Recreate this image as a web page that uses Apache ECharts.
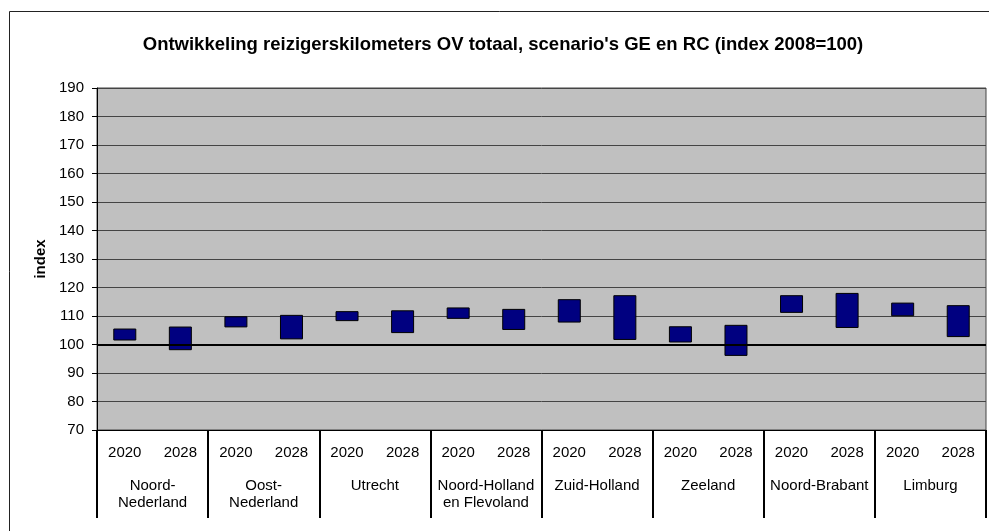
<!DOCTYPE html>
<html>
<head>
<meta charset="utf-8">
<script src="https://cdn.jsdelivr.net/npm/echarts@6/dist/echarts.min.js"></script>
<style>
  html, body { margin: 0; padding: 0; background: #fff; }
  #main { width: 989px; height: 531px; }
</style>
</head>
<body>
<div id="main"></div>
<script>
// regio's (onderste as) en jaren (bovenste rij labels)
var regions = ['Noord-\nNederland', 'Oost-\nNederland', 'Utrecht', 'Noord-Holland\nen Flevoland',
               'Zuid-Holland', 'Zeeland', 'Noord-Brabant', 'Limburg'];
var yearLabels = ['2020', '2028', '2020', '2028', '2020', '2028', '2020', '2028',
                  '2020', '2028', '2020', '2028', '2020', '2028', '2020', '2028'];

// onder- en bovenkant van de bandbreedte (index 2008=100)
var lowValues  = [101.4, 98.0, 106.0, 101.8, 108.2, 104.0, 109.0, 105.1,
                  107.7, 101.6, 100.7, 96.0, 111.1, 105.8, 109.9, 102.6];
var highValues = [105.6, 106.3, 109.9, 110.4, 111.7, 112.0, 113.0, 112.5,
                  115.9, 117.3, 106.4, 106.9, 117.3, 118.1, 114.7, 113.8];

var yTicks = { min: 70, max: 190, interval: 10 };
var baseLine = 100;

var font = "'Liberation Sans', Arial, sans-serif";

// hoogte van de zichtbare balk = boven - onder
var rangeValues = highValues.map(function (v, i) {
    return +(v - lowValues[i]).toFixed(2);
});

var myChart = echarts.init(document.getElementById('main'));

var option = {
    backgroundColor: '#fff',
    animation: false,
    title: {
        text: "Ontwikkeling reizigerskilometers OV totaal, scenario's GE en RC (index 2008=100)",
        left: 498,
        textAlign: 'center',
        top: 30,
        textStyle: { fontFamily: font, fontSize: 18.5, fontWeight: 'bold', color: '#000' }
    },
    graphic: [{
        type: 'rect',
        shape: { x: 9.5, y: 11.5, width: 1000, height: 600 },
        style: { fill: 'none', stroke: '#222', lineWidth: 1 },
        silent: true
    }],
    grid: {
        left: 97, right: 3, top: 88, bottom: 101,
        show: true,
        backgroundColor: '#c0c0c0',
        borderColor: '#444',
        borderWidth: 1
    },
    xAxis: [{
        type: 'category',
        data: yearLabels,
        axisLine: { lineStyle: { color: '#000', width: 1 } },
        axisTick: { show: false },
        axisLabel: { fontFamily: font, fontSize: 15, color: '#000', margin: 15, interval: 0 }
    }, {
        type: 'category',
        data: regions,
        position: 'bottom',
        axisLine: { show: false },
        axisTick: { show: true, length: 88, interval: 0, lineStyle: { color: '#000', width: 2 } },
        axisLabel: { fontFamily: font, fontSize: 15, color: '#000', margin: 47, lineHeight: 17, interval: 0 },
        splitLine: { show: false }
    }],
    yAxis: {
        type: 'value',
        min: yTicks.min,
        max: yTicks.max,
        interval: yTicks.interval,
        name: 'index',
        nameLocation: 'middle',
        nameRotate: 90,
        nameGap: 47,
        nameTextStyle: { fontFamily: font, fontSize: 15, fontWeight: 'bold', color: '#000' },
        axisLine: { show: true, lineStyle: { color: '#000', width: 1 } },
        axisTick: { show: true, length: 5, lineStyle: { color: '#000' } },
        axisLabel: { fontFamily: font, fontSize: 15, color: '#000', margin: 13 },
        splitLine: { show: true, lineStyle: { color: '#444', width: 1 } }
    },
    series: [{
        name: 'basis',
        type: 'bar',
        stack: 'band',
        barWidth: 23,
        silent: true,
        itemStyle: { color: 'transparent' },
        data: lowValues
    }, {
        name: 'bandbreedte',
        type: 'bar',
        stack: 'band',
        barWidth: 23,
        itemStyle: { color: '#000080', borderColor: '#000', borderWidth: 1 },
        data: rangeValues,
        markLine: {
            silent: true,
            symbol: 'none',
            label: { show: false },
            lineStyle: { color: '#000', width: 2, type: 'solid' },
            data: [{ yAxis: baseLine }]
        }
    }]
};

myChart.setOption(option);
</script>
</body>
</html>
